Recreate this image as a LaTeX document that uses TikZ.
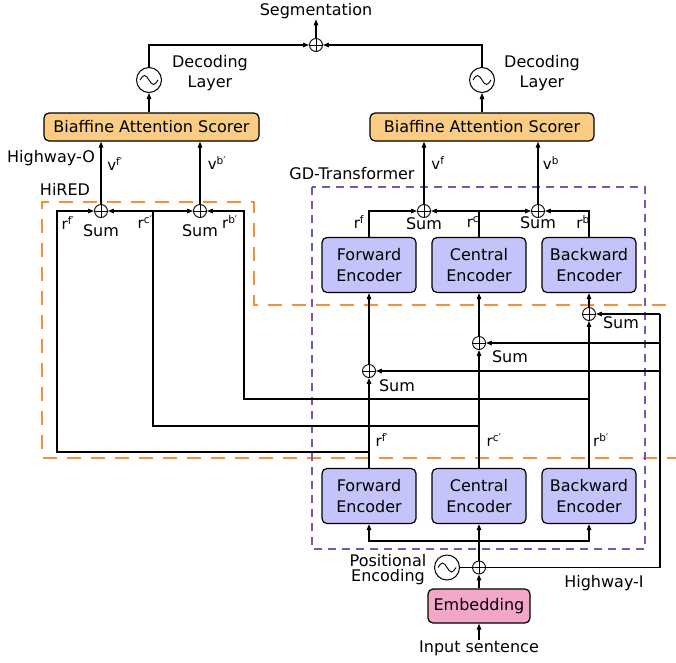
\documentclass[tikz,border=0pt]{standalone}
\usepackage{fontspec}
\setmainfont{DejaVu Sans}
\usetikzlibrary{arrows.meta,calc}
\definecolor{biaf}{RGB}{250,204,132}
\definecolor{encc}{RGB}{196,196,250}
\definecolor{embc}{RGB}{244,166,200}
\definecolor{orng}{RGB}{242,146,60}
\definecolor{purp}{RGB}{128,84,168}
\begin{document}
\begin{tikzpicture}[x=1pt,y=-1pt,
  font=\fontsize{16}{20}\selectfont,
  line width=1.2pt,
  arr/.style={-{Triangle[length=6pt,width=4.5pt]}},
  sumnode/.style={circle,draw,line width=0.9pt,minimum size=13pt,inner sep=0pt,
    path picture={\draw[line width=0.8pt] (path picture bounding box.north) -- (path picture bounding box.south)
      (path picture bounding box.west) -- (path picture bounding box.east);}},
  wavenode/.style={circle,draw,line width=1pt,minimum size=25pt,inner sep=0pt,
    path picture={\draw[line width=0.9pt] ([xshift=-9pt]path picture bounding box.center)
      sin ++(4.5pt,4.5pt) cos ++(4.5pt,-4.5pt) sin ++(4.5pt,-4.5pt) cos ++(4.5pt,4.5pt);}},
  encbox/.style={draw,rounded corners=5pt,fill=encc,minimum width=94pt,minimum height=55pt,
    align=center,inner sep=0pt,font=\fontsize{16}{21.5}\selectfont},
  biafbox/.style={draw,rounded corners=5pt,fill=biaf,minimum height=28pt,inner sep=0pt},
  lbl/.style={inner sep=0pt},
  sup/.style={inner sep=0pt,font=\fontsize{15}{18}\selectfont},
  orangedash/.style={draw=orng,line width=2.5pt,dash pattern=on 14pt off 10pt},
  purpledash/.style={draw=purp,line width=1.2pt,dash pattern=on 8pt off 6pt}
]
\useasboundingbox (0,0) rectangle (676,662);

% frames
\begin{scope}
\clip (0,0) rectangle (676,662);
\draw[orangedash] (690,305) -- (254,305) -- (254,202) -- (42,202) -- (42,458) -- (690,458);
\end{scope}
\draw[purpledash] (312,187) rectangle (645,549);

% top
\node[lbl] (seg) at (316,11) {Segmentation};
\node[sumnode] (s0) at (316,45) {};
\node[wavenode] (decL) at (149,80) {};
\node[wavenode] (decR) at (482,80) {};
\node[lbl,align=center] (decLt) at (210,73) {Decoding\\Layer};
\node[lbl,align=center] (decRt) at (542,73) {Decoding\\Layer};
\node[biafbox,minimum width=215pt] (bL) at (151.5,127) {Biaffine Attention Scorer};
\node[biafbox,minimum width=224pt] (bR) at (482,127) {Biaffine Attention Scorer};

\node[sumnode] (sL1) at (101,211) {};
\node[sumnode] (sL2) at (200,211) {};
\node[sumnode] (sR1) at (424,211) {};
\node[sumnode] (sR2) at (538,211) {};

% encoders
\node[encbox] (eF) at (369,265) {Forward\\Encoder};
\node[encbox] (eC) at (479,265) {Central\\Encoder};
\node[encbox] (eB) at (589,265) {Backward\\Encoder};
\node[encbox] (bF) at (369,496) {Forward\\Encoder};
\node[encbox] (bC) at (479,496) {Central\\Encoder};
\node[encbox] (bB) at (589,496) {Backward\\Encoder};

\node[sumnode] (mF) at (369,371) {};
\node[sumnode] (mC) at (479,343) {};
\node[sumnode] (mB) at (589,314) {};

\node[sumnode] (p0) at (479,567.5) {};
\node[wavenode] (pe) at (447,567.5) {};
\node[lbl,align=center,font=\fontsize{16}{15}\selectfont] (pet) at (388,570) {Positional\\Encoding};
\node[draw,rounded corners=5pt,fill=embc,minimum width=102pt,minimum height=34pt,inner sep=0pt] (emb) at (479,606) {Embedding};
\node[lbl] (inp) at (479,648) {Input sentence};

% labels
\node[lbl] (hwo) at (51,158) {Highway-O};
\node[lbl] (hired) at (65,189) {HiRED};
\node[lbl] (gdt) at (352,174) {GD-Transformer};
\node[lbl] (hwi) at (604,583) {Highway-I};

\node[sup] (v1) at (115,164) {v\textsuperscript{f′}};
\node[sup] (v2) at (217,163) {v\textsuperscript{b′}};
\node[sup] (v3) at (438,163) {v\textsuperscript{f}};
\node[sup] (v4) at (551,163) {v\textsuperscript{b}};

\node[sup] (r1) at (68,223) {r\textsuperscript{f′}};
\node[sup] (r2) at (145,222) {r\textsuperscript{c′}};
\node[sup] (r3) at (230,222) {r\textsuperscript{b′}};
\node[sup] (r4) at (359,222) {r\textsuperscript{f}};
\node[sup] (r5) at (473,222) {r\textsuperscript{c}};
\node[sup] (r6) at (583,222) {r\textsuperscript{b}};
\node[sup] (r7) at (382,440) {r\textsuperscript{f′}};
\node[sup] (r8) at (494,440) {r\textsuperscript{c′}};
\node[sup] (r9) at (601,440) {r\textsuperscript{b′}};

\node[lbl] (sum1) at (101,231) {Sum};
\node[lbl] (sum2) at (200,231) {Sum};
\node[lbl] (sum3) at (424,224) {Sum};
\node[lbl] (sum4) at (538,223) {Sum};
\node[lbl] (sum5) at (397,386) {Sum};
\node[lbl] (sum6) at (510,357) {Sum};
\node[lbl] (sum7) at (621,323) {Sum};

% connectors top
\draw[arr] (s0) -- (seg);
\draw[arr] (decL) |- (s0);
\draw[arr] (decR) |- (s0);
\draw[arr] (bL.north -| decL) -- (decL);
\draw[arr] (bR.north -| decR) -- (decR);
\draw[arr] (sL1) -- (sL1 |- bL.south);
\draw[arr] (sL2) -- (sL2 |- bL.south);
\draw[arr] (sR1) -- (sR1 |- bR.south);
\draw[arr] (sR2) -- (sR2 |- bR.south);

\draw[arr] (eF.north) |- (sR1);
\draw[arr] (eC.north) |- (sR1);
\draw[arr] (eC.north) |- (sR2);
\draw[arr] (eB.north) |- (sR2);

% HiRED
\coordinate (jF) at (369,452);
\coordinate (kF) at (57,211);
\coordinate (jC) at (479,426);
\coordinate (kC) at (153,211);
\coordinate (jB) at (589,399);
\coordinate (kB) at (244,211);
\draw[arr] (jF) -| (kF) -- (sL1);
\draw (jC) -| (kC);
\draw[arr] (kC) -- (sL1);
\draw[arr] (kC) -- (sL2);
\draw[arr] (jB) -| (kB) -- (sL2);

% middle
\draw[arr] (bF) -- (mF);
\draw[arr] (mF) -- (eF);
\draw[arr] (bC) -- (mC);
\draw[arr] (mC) -- (eC);
\draw[arr] (bB) -- (mB);
\draw[arr] (mB) -- (eB);

% highway-I
\coordinate (hB) at (660,567.5);
\coordinate (hT) at (660,314);
\coordinate (h2) at (660,343);
\coordinate (h3) at (660,371);
\draw (p0) -- (hB) -- (hT);
\draw[arr] (hT) -- (mB);
\draw[arr] (h2) -- (mC);
\draw[arr] (h3) -- (mF);

% bottom
\coordinate (jE) at (479,541);
\draw[arr] (jE) -| (bF);
\draw[arr] (jE) -| (bB);
\draw[arr] (p0) -- (bC);
\draw[arr] (emb) -- (p0);
\draw[line width=1pt] (pe) -- (p0);
\draw[arr] (inp) -- (emb);
\end{tikzpicture}
\end{document}
